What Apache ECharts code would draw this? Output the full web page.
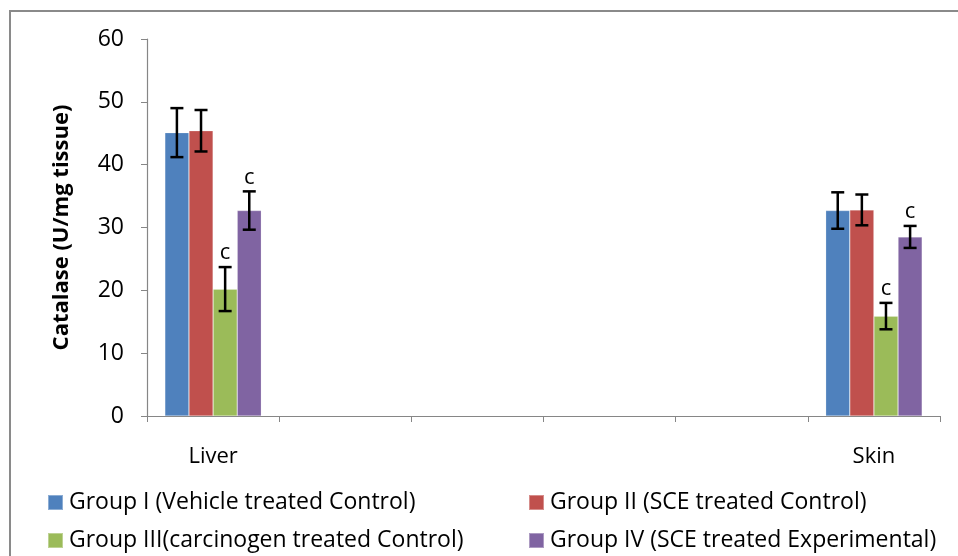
<!DOCTYPE html>
<html>
<head>
<meta charset="utf-8">
<script src="https://cdn.jsdelivr.net/npm/echarts@6/dist/echarts.min.js"></script>
<style>html,body{margin:0;padding:0;background:#fff}#c{width:958px;height:556px}</style>
</head>
<body>
<div id="c"></div>
<script>
const categories = ['Liver', '', '', '', '', 'Skin'];
const seriesNames = [
  'Group I (Vehicle treated Control)',
  'Group II (SCE treated Control)',
  'Group III(carcinogen treated Control)',
  'Group IV (SCE treated Experimental)'
];
const colors = ['#4F81BD', '#C0504D', '#9BBB59', '#8064A2'];
// values per series: [Liver, Skin]
const groupI = [45.1, 32.7];
const groupII = [45.4, 32.8];
const groupIII = [20.2, 15.9];
const groupIV = [32.7, 28.5];
const errI = [3.9, 2.9];
const errII = [3.3, 2.45];
const errIII = [3.5, 2.1];
const errIV = [3.05, 1.75];
const lettersI = ['', ''];
const lettersII = ['', ''];
const lettersIII = ['c', 'c'];
const lettersIV = ['c', 'c'];
const catIndex = [0, 5];
const yTicks = { min: 0, max: 60, interval: 10 };

const values = [groupI, groupII, groupIII, groupIV];
const errors = [errI, errII, errIII, errIV];
const letters = [lettersI, lettersII, lettersIII, lettersIV];
const gapRatio = 0.27;
const font = 'Open Sans';

function toCatData(v) {
  const d = categories.map(() => '-');
  catIndex.forEach((ci, k) => { d[ci] = v[k]; });
  return d;
}

const series = [];
values.forEach((v, i) => {
  series.push({
    name: seriesNames[i],
    type: 'bar',
    data: toCatData(v),
    barGap: '0%',
    barCategoryGap: (gapRatio * 100) + '%',
    itemStyle: { color: colors[i], borderColor: 'rgba(255,255,255,0.35)', borderWidth: 0.6 },
    emphasis: { disabled: true },
    z: 2
  });
});
values.forEach((v, i) => {
  const data = catIndex.map((ci, k) => [ci, v[k], errors[i][k], letters[i][k]]);
  series.push({
    type: 'custom',
    name: seriesNames[i] + ' err',
    data: data,
    z: 5,
    silent: true,
    renderItem: function (params, api) {
      const ci = api.value(0), val = api.value(1), e = api.value(2);
      const letter = data[params.dataIndex][3];
      const band = api.size([1, 0])[0];
      const bw = band * (1 - gapRatio) / 4;
      const center = api.coord([ci, val]);
      const x = center[0] + (i - 1.5) * bw;
      const top = api.coord([ci, val + e])[1];
      const bot = api.coord([ci, val - e])[1];
      const cap = 6.5;
      const st = { stroke: '#000', lineWidth: 2.5 };
      const children = [
        { type: 'line', shape: { x1: x, y1: top, x2: x, y2: bot }, style: st },
        { type: 'line', shape: { x1: x - cap, y1: top, x2: x + cap, y2: top }, style: st },
        { type: 'line', shape: { x1: x - cap, y1: bot, x2: x + cap, y2: bot }, style: st }
      ];
      if (letter) {
        children.push({
          type: 'text',
          style: { text: letter, x: x, y: top - 3, align: 'center', verticalAlign: 'bottom',
                   fill: '#000', font: '22px "' + font + '"' }
        });
      }
      return { type: 'group', children: children };
    }
  });
});

const legendPos = [[47, 491], [528, 491], [47, 529], [528, 529]];
const legends = seriesNames.map((n, i) => ({
  data: [n],
  left: legendPos[i][0],
  top: legendPos[i][1],
  orient: 'horizontal',
  itemWidth: 15,
  itemHeight: 15,
  icon: 'rect',
  selectedMode: false,
  padding: 0,
  textStyle: { fontFamily: font, fontSize: 23, color: '#000', padding: [0, 0, 0, 1] }
}));

const chart = echarts.init(document.getElementById('c'));
chart.setOption({
  animation: false,
  backgroundColor: '#fff',
  graphic: [{
    type: 'rect',
    shape: { x: 10, y: 11, width: 1000, height: 600 },
    style: { fill: 'none', stroke: '#8a8a8a', lineWidth: 2 },
    silent: true
  }],
  legend: legends,
  grid: { left: 147, right: 18, top: 39, bottom: 140 },
  xAxis: {
    type: 'category',
    data: categories,
    axisLine: { lineStyle: { color: '#868686', width: 1.2 } },
    axisTick: { show: true, interval: 0, length: 6, lineStyle: { color: '#868686' } },
    axisLabel: { interval: 0, margin: 30, fontFamily: font, fontSize: 22, color: '#000' }
  },
  yAxis: {
    type: 'value',
    min: yTicks.min, max: yTicks.max, interval: yTicks.interval,
    name: 'Catalase (U/mg tissue)',
    nameLocation: 'middle',
    nameGap: 74,
    nameTextStyle: { fontFamily: font, fontSize: 22, fontWeight: 'bold', color: '#000' },
    axisLine: { show: true, lineStyle: { color: '#868686', width: 1.2 } },
    axisTick: { show: true, length: 6, lineStyle: { color: '#868686' } },
    splitLine: { show: false },
    axisLabel: { margin: 23, fontFamily: font, fontSize: 23, color: '#000' }
  },
  series: series
});
</script>
</body>
</html>
